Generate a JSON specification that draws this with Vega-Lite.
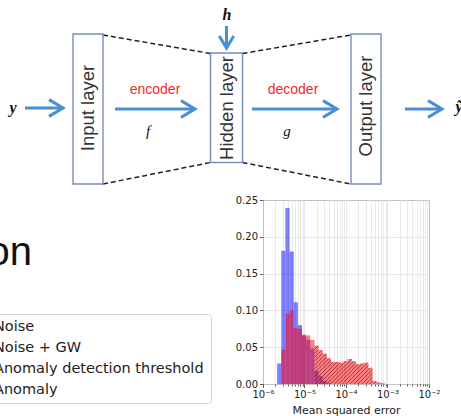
{
  "$schema": "https://vega.github.io/schema/vega-lite/v6.json",
  "padding": 0,
  "background": "white",
  "spacing": 0,
  "bounds": "flush",
  "config": {"view": {"stroke": null}, "font": "DejaVu Sans", "concat": {"spacing": 0}, "axis": {"labelOverlap": false, "labelSeparation": 0}},
  "vconcat": [
    {
      "width": 461,
      "height": 200,
      "encoding": {
        "x": {"field": "x", "type": "quantitative", "scale": {"domain": [0, 461], "nice": false, "zero": false}, "axis": null},
        "y": {"field": "y", "type": "quantitative", "scale": {"domain": [0, 200], "nice": false, "zero": false, "reverse": true}, "axis": null}
      },
      "layer": [
        {
          "data": {"values": [
            {"x": 103, "y": 35, "x2": 210.5, "y2": 53.5},
            {"x": 103, "y": 184, "x2": 210.5, "y2": 162.5},
            {"x": 242.5, "y": 53.5, "x2": 351, "y2": 35},
            {"x": 242.5, "y": 162.5, "x2": 351, "y2": 184}
          ]},
          "mark": {"type": "rule", "color": "#222", "strokeWidth": 1.5, "strokeDash": [5, 3]},
          "encoding": {"x2": {"field": "x2"}, "y2": {"field": "y2"}}
        },
        {
          "data": {"values": [
            {"x": 73, "x2": 103, "y": 34, "y2": 184},
            {"x": 210.5, "x2": 242.5, "y": 53, "y2": 162.5},
            {"x": 351, "x2": 381, "y": 34, "y2": 184}
          ]},
          "mark": {"type": "rect", "fill": "white", "stroke": "#7a8cc0", "strokeWidth": 1.4},
          "encoding": {"x2": {"field": "x2"}, "y2": {"field": "y2"}}
        },
        {
          "data": {"values": [
            {"x": 88, "y": 108, "label": "Input layer"},
            {"x": 226.5, "y": 108, "label": "Hidden layer"},
            {"x": 366, "y": 106, "label": "Output layer"}
          ]},
          "mark": {"type": "text", "angle": 270, "align": "center", "baseline": "middle", "font": "Liberation Sans", "fontSize": 18.5, "color": "#333"},
          "encoding": {"text": {"field": "label"}}
        },
        {
          "data": {"values": [
            {"x": 25, "x2": 61, "y": 108},
            {"x": 115, "x2": 193, "y": 109},
            {"x": 252, "x2": 335, "y": 109},
            {"x": 405, "x2": 440, "y": 109}
          ]},
          "mark": {"type": "rule", "color": "#4a8fd4", "strokeWidth": 3},
          "encoding": {"x2": {"field": "x2"}}
        },
        {
          "data": {"values": [{"x": 226.5, "y": 26, "y2": 46}]},
          "mark": {"type": "rule", "color": "#4a8fd4", "strokeWidth": 3},
          "encoding": {"y2": {"field": "y2"}}
        },
        {
          "data": {"values": [
            {"x": 63, "y": 108},
            {"x": 195, "y": 109},
            {"x": 337, "y": 109},
            {"x": 442, "y": 109}
          ]},
          "mark": {"type": "point", "shape": "M-2,-1.2L0,0L-2,1.2", "size": 196, "filled": false, "stroke": "#4a8fd4", "strokeWidth": 3, "opacity": 1, "strokeJoin": "miter"},
          "encoding": {}
        },
        {
          "data": {"values": [{"x": 226.5, "y": 48}]},
          "mark": {"type": "point", "shape": "M-2,-1.2L0,0L-2,1.2", "size": 144, "angle": 90, "filled": false, "stroke": "#4a8fd4", "strokeWidth": 3, "opacity": 1, "strokeJoin": "miter"},
          "encoding": {}
        },
        {
          "data": {"values": [
            {"x": 13, "y": 108, "label": "y"},
            {"x": 227, "y": 15, "label": "h"},
            {"x": 459, "y": 107, "label": "ỹ"}
          ]},
          "mark": {"type": "text", "align": "center", "baseline": "middle", "font": "Liberation Serif", "fontStyle": "italic", "fontWeight": "bold", "fontSize": 16, "color": "#111", "clip": true},
          "encoding": {"text": {"field": "label"}}
        },
        {
          "data": {"values": [
            {"x": 148, "y": 131, "label": "f"},
            {"x": 287, "y": 131, "label": "g"}
          ]},
          "mark": {"type": "text", "align": "center", "baseline": "middle", "font": "Liberation Serif", "fontStyle": "italic", "fontSize": 15, "color": "#111"},
          "encoding": {"text": {"field": "label"}}
        },
        {
          "data": {"values": [
            {"x": 155, "y": 90, "label": "encoder"},
            {"x": 293, "y": 90, "label": "decoder"}
          ]},
          "mark": {"type": "text", "align": "center", "baseline": "middle", "font": "Liberation Sans", "fontSize": 14, "color": "#ee2b2b"},
          "encoding": {"text": {"field": "label"}}
        }
      ]
    },
    {
      "spacing": 0,
      "bounds": "flush",
      "hconcat": [
        {
          "width": 263,
          "height": 216,
          "encoding": {
            "x": {"field": "x", "type": "quantitative", "scale": {"domain": [0, 263], "nice": false, "zero": false}, "axis": null},
            "y": {"field": "y", "type": "quantitative", "scale": {"domain": [0, 216], "nice": false, "zero": false, "reverse": true}, "axis": null}
          },
          "layer": [
            {
              "data": {"values": [{"x": 32, "y": 64.5, "label": "on"}]},
              "mark": {"type": "text", "align": "right", "baseline": "alphabetic", "font": "Liberation Sans", "fontSize": 40, "color": "#111", "clip": true},
              "encoding": {"text": {"field": "label"}}
            },
            {
              "data": {"values": [{"x": -20, "x2": 211.5, "y": 114.5, "y2": 203.5}]},
              "mark": {"type": "rect", "fill": "white", "stroke": "#d4d4d4", "strokeWidth": 1, "cornerRadius": 3, "clip": true},
              "encoding": {"x2": {"field": "x2"}, "y2": {"field": "y2"}}
            },
            {
              "data": {"values": [
                {"x": -6, "y": 127, "label": "Noise"},
                {"x": -6, "y": 147.5, "label": "Noise + GW"},
                {"x": -6, "y": 168.5, "label": "Anomaly detection threshold"},
                {"x": -6, "y": 189.5, "label": "Anomaly"}
              ]},
              "mark": {"type": "text", "align": "left", "baseline": "middle", "font": "DejaVu Sans", "fontSize": 14.5, "color": "#222", "clip": true},
              "encoding": {"text": {"field": "label"}}
            }
          ]
        },
        {
          "width": 166,
          "height": 184,
          "view": {"stroke": "#444", "strokeWidth": 1},
          "layer": [
            {
              "data": {"values": [
                {"lo": 2.188e-6, "hi": 2.754e-6, "v": 0.028},
                {"lo": 2.754e-6, "hi": 3.467e-6, "v": 0.181},
                {"lo": 3.467e-6, "hi": 4.365e-6, "v": 0.239},
                {"lo": 4.365e-6, "hi": 5.495e-6, "v": 0.180},
                {"lo": 5.495e-6, "hi": 6.918e-6, "v": 0.111},
                {"lo": 6.918e-6, "hi": 8.710e-6, "v": 0.080},
                {"lo": 8.710e-6, "hi": 1.0965e-5, "v": 0.066},
                {"lo": 1.0965e-5, "hi": 1.380e-5, "v": 0.060},
                {"lo": 1.380e-5, "hi": 1.738e-5, "v": 0.048},
                {"lo": 1.738e-5, "hi": 2.188e-5, "v": 0.018},
                {"lo": 2.188e-5, "hi": 2.754e-5, "v": 0.011},
                {"lo": 2.754e-5, "hi": 3.467e-5, "v": 0.004},
                {"lo": 3.467e-5, "hi": 4.365e-5, "v": 0.001}
              ]},
              "mark": {"type": "rect", "fill": "#0000ff", "fillOpacity": 0.5},
              "encoding": {
                "x": {
                  "field": "lo", "type": "quantitative",
                  "scale": {"type": "log", "domain": [0.000001, 0.01], "nice": false},
                  "axis": {
                    "values": [0.000001, 0.000002, 0.000003, 0.000004, 0.000005, 0.000006, 0.000007, 0.000008, 0.000009, 0.00001, 0.00002, 0.00003, 0.00004, 0.00005, 0.00006, 0.00007, 0.00008, 0.00009, 0.0001, 0.0002, 0.0003, 0.0004, 0.0005, 0.0006, 0.0007, 0.0008, 0.0009, 0.001, 0.002, 0.003, 0.004, 0.005, 0.006, 0.007, 0.008, 0.009, 0.01],
                    "labelExpr": "datum.value == 0.000001 ? '10⁻⁶' : datum.value == 0.00001 ? '10⁻⁵' : datum.value == 0.0001 ? '10⁻⁴' : datum.value == 0.001 ? '10⁻³' : datum.value == 0.01 ? '10⁻²' : ''",
                    "title": "Mean squared error",
                    "titleFont": "DejaVu Sans", "titleFontSize": 11, "titleFontWeight": "normal", "titleColor": "#222", "titlePadding": 5,
                    "labelFont": "DejaVu Sans", "labelFontSize": 10, "labelColor": "#222", "labelPadding": 2,
                    "labelFlush": false, "labelOverlap": false,
                    "grid": true, "gridColor": "#e3e3e3", "gridWidth": 0.8,
                    "domain": false,
                    "tickColor": "#333", "tickWidth": 0.8,
                    "tickSize": {"condition": {"test": "datum.value == 0.000001 || datum.value == 0.00001 || datum.value == 0.0001 || datum.value == 0.001 || datum.value == 0.01", "value": 3.5}, "value": 2}
                  }
                },
                "x2": {"field": "hi"},
                "y": {
                  "field": "v", "type": "quantitative",
                  "scale": {"domain": [0, 0.25], "nice": false},
                  "axis": {
                    "values": [0, 0.05, 0.1, 0.15, 0.2, 0.25],
                    "tickCount": 6,
                    "format": ".2f",
                    "title": null,
                    "labelFont": "DejaVu Sans", "labelFontSize": 10, "labelColor": "#222", "labelPadding": 2,
                    "labelFlush": false, "labelOverlap": false, "labelSeparation": 0,
                    "grid": true, "gridColor": "#e3e3e3", "gridWidth": 0.8,
                    "domain": false,
                    "tickColor": "#333", "tickWidth": 0.8, "tickSize": 3.5
                  }
                },
                "y2": {"datum": 0}
              }
            },
            {
              "data": {"values": [
                {"lo": 2.754e-6, "hi": 3.467e-6, "v": 0.047},
                {"lo": 3.467e-6, "hi": 4.365e-6, "v": 0.096},
                {"lo": 4.365e-6, "hi": 5.495e-6, "v": 0.100},
                {"lo": 5.495e-6, "hi": 6.918e-6, "v": 0.076},
                {"lo": 6.918e-6, "hi": 8.710e-6, "v": 0.075},
                {"lo": 8.710e-6, "hi": 1.0965e-5, "v": 0.067},
                {"lo": 1.0965e-5, "hi": 1.380e-5, "v": 0.066},
                {"lo": 1.380e-5, "hi": 1.738e-5, "v": 0.060},
                {"lo": 1.738e-5, "hi": 2.188e-5, "v": 0.052},
                {"lo": 2.188e-5, "hi": 2.754e-5, "v": 0.046},
                {"lo": 2.754e-5, "hi": 3.467e-5, "v": 0.041},
                {"lo": 3.467e-5, "hi": 4.365e-5, "v": 0.035},
                {"lo": 4.365e-5, "hi": 5.495e-5, "v": 0.030},
                {"lo": 5.495e-5, "hi": 6.918e-5, "v": 0.030},
                {"lo": 6.918e-5, "hi": 8.710e-5, "v": 0.029},
                {"lo": 8.710e-5, "hi": 1.0965e-4, "v": 0.031},
                {"lo": 1.0965e-4, "hi": 1.380e-4, "v": 0.034},
                {"lo": 1.380e-4, "hi": 1.738e-4, "v": 0.031},
                {"lo": 1.738e-4, "hi": 2.188e-4, "v": 0.027},
                {"lo": 2.188e-4, "hi": 2.754e-4, "v": 0.028},
                {"lo": 2.754e-4, "hi": 3.467e-4, "v": 0.029},
                {"lo": 3.467e-4, "hi": 4.365e-4, "v": 0.022},
                {"lo": 4.365e-4, "hi": 5.495e-4, "v": 0.004},
                {"lo": 5.495e-4, "hi": 6.918e-4, "v": 0.002},
                {"lo": 6.918e-4, "hi": 8.710e-4, "v": 0.001}
              ]},
              "mark": {"type": "rect", "fill": "#ff0000", "fillOpacity": 0.5},
              "encoding": {
                "x": {"field": "lo", "type": "quantitative", "scale": {"type": "log", "domain": [0.000001, 0.01], "nice": false}},
                "x2": {"field": "hi"},
                "y": {"field": "v", "type": "quantitative", "scale": {"domain": [0, 0.25], "nice": false}},
                "y2": {"datum": 0}
              }
            },
            {
              "data": {"values": [
                {"lo": 1.738e-5, "v": 0.052},
                {"lo": 2.188e-5, "v": 0.046},
                {"lo": 2.754e-5, "v": 0.041},
                {"lo": 3.467e-5, "v": 0.035},
                {"lo": 4.365e-5, "v": 0.030},
                {"lo": 5.495e-5, "v": 0.030},
                {"lo": 6.918e-5, "v": 0.029},
                {"lo": 8.710e-5, "v": 0.031},
                {"lo": 1.0965e-4, "v": 0.034},
                {"lo": 1.380e-4, "v": 0.031},
                {"lo": 1.738e-4, "v": 0.027},
                {"lo": 2.188e-4, "v": 0.028},
                {"lo": 2.754e-4, "v": 0.029},
                {"lo": 3.467e-4, "v": 0.022},
                {"lo": 4.365e-4, "v": 0.004},
                {"lo": 5.495e-4, "v": 0.002},
                {"lo": 6.918e-4, "v": 0.001},
                {"lo": 8.710e-4, "v": 0.001}
              ]},
              "mark": {
                "type": "area",
                "interpolate": "step-after",
                "fill": {
                  "gradient": "linear", "x1": 0, "y1": 0, "x2": 1.1917, "y2": 0.647,
                  "stops": [
                    {"offset": 0, "color": "rgba(110,0,20,0.6)"},
                    {"offset": 0.00893, "color": "rgba(110,0,20,0)"},
                    {"offset": 0.02679, "color": "rgba(110,0,20,0)"},
                    {"offset": 0.035714, "color": "rgba(110,0,20,0.6)"},
                    {"offset": 0.044643, "color": "rgba(110,0,20,0)"},
                    {"offset": 0.0625, "color": "rgba(110,0,20,0)"},
                    {"offset": 0.071429, "color": "rgba(110,0,20,0.6)"},
                    {"offset": 0.080357, "color": "rgba(110,0,20,0)"},
                    {"offset": 0.098214, "color": "rgba(110,0,20,0)"},
                    {"offset": 0.107143, "color": "rgba(110,0,20,0.6)"},
                    {"offset": 0.116071, "color": "rgba(110,0,20,0)"},
                    {"offset": 0.133929, "color": "rgba(110,0,20,0)"},
                    {"offset": 0.142857, "color": "rgba(110,0,20,0.6)"},
                    {"offset": 0.151786, "color": "rgba(110,0,20,0)"},
                    {"offset": 0.169643, "color": "rgba(110,0,20,0)"},
                    {"offset": 0.178571, "color": "rgba(110,0,20,0.6)"},
                    {"offset": 0.1875, "color": "rgba(110,0,20,0)"},
                    {"offset": 0.205357, "color": "rgba(110,0,20,0)"},
                    {"offset": 0.214286, "color": "rgba(110,0,20,0.6)"},
                    {"offset": 0.223214, "color": "rgba(110,0,20,0)"},
                    {"offset": 0.241071, "color": "rgba(110,0,20,0)"},
                    {"offset": 0.25, "color": "rgba(110,0,20,0.6)"},
                    {"offset": 0.258929, "color": "rgba(110,0,20,0)"},
                    {"offset": 0.276786, "color": "rgba(110,0,20,0)"},
                    {"offset": 0.285714, "color": "rgba(110,0,20,0.6)"},
                    {"offset": 0.294643, "color": "rgba(110,0,20,0)"},
                    {"offset": 0.3125, "color": "rgba(110,0,20,0)"},
                    {"offset": 0.321429, "color": "rgba(110,0,20,0.6)"},
                    {"offset": 0.330357, "color": "rgba(110,0,20,0)"},
                    {"offset": 0.348214, "color": "rgba(110,0,20,0)"},
                    {"offset": 0.357143, "color": "rgba(110,0,20,0.6)"},
                    {"offset": 0.366071, "color": "rgba(110,0,20,0)"},
                    {"offset": 0.383929, "color": "rgba(110,0,20,0)"},
                    {"offset": 0.392857, "color": "rgba(110,0,20,0.6)"},
                    {"offset": 0.401786, "color": "rgba(110,0,20,0)"},
                    {"offset": 0.419643, "color": "rgba(110,0,20,0)"},
                    {"offset": 0.428571, "color": "rgba(110,0,20,0.6)"},
                    {"offset": 0.4375, "color": "rgba(110,0,20,0)"},
                    {"offset": 0.455357, "color": "rgba(110,0,20,0)"},
                    {"offset": 0.464286, "color": "rgba(110,0,20,0.6)"},
                    {"offset": 0.473214, "color": "rgba(110,0,20,0)"},
                    {"offset": 0.491071, "color": "rgba(110,0,20,0)"},
                    {"offset": 0.5, "color": "rgba(110,0,20,0.6)"},
                    {"offset": 0.508929, "color": "rgba(110,0,20,0)"},
                    {"offset": 0.526786, "color": "rgba(110,0,20,0)"},
                    {"offset": 0.535714, "color": "rgba(110,0,20,0.6)"},
                    {"offset": 0.544643, "color": "rgba(110,0,20,0)"},
                    {"offset": 0.5625, "color": "rgba(110,0,20,0)"},
                    {"offset": 0.571429, "color": "rgba(110,0,20,0.6)"},
                    {"offset": 0.580357, "color": "rgba(110,0,20,0)"},
                    {"offset": 0.598214, "color": "rgba(110,0,20,0)"},
                    {"offset": 0.607143, "color": "rgba(110,0,20,0.6)"},
                    {"offset": 0.616071, "color": "rgba(110,0,20,0)"},
                    {"offset": 0.633929, "color": "rgba(110,0,20,0)"},
                    {"offset": 0.642857, "color": "rgba(110,0,20,0.6)"},
                    {"offset": 0.651786, "color": "rgba(110,0,20,0)"},
                    {"offset": 0.669643, "color": "rgba(110,0,20,0)"},
                    {"offset": 0.678571, "color": "rgba(110,0,20,0.6)"},
                    {"offset": 0.6875, "color": "rgba(110,0,20,0)"},
                    {"offset": 0.705357, "color": "rgba(110,0,20,0)"},
                    {"offset": 0.714286, "color": "rgba(110,0,20,0.6)"},
                    {"offset": 0.723214, "color": "rgba(110,0,20,0)"},
                    {"offset": 0.741071, "color": "rgba(110,0,20,0)"},
                    {"offset": 0.75, "color": "rgba(110,0,20,0.6)"},
                    {"offset": 0.758929, "color": "rgba(110,0,20,0)"},
                    {"offset": 0.776786, "color": "rgba(110,0,20,0)"},
                    {"offset": 0.785714, "color": "rgba(110,0,20,0.6)"},
                    {"offset": 0.794643, "color": "rgba(110,0,20,0)"},
                    {"offset": 0.8125, "color": "rgba(110,0,20,0)"},
                    {"offset": 0.821429, "color": "rgba(110,0,20,0.6)"},
                    {"offset": 0.830357, "color": "rgba(110,0,20,0)"},
                    {"offset": 0.848214, "color": "rgba(110,0,20,0)"},
                    {"offset": 0.857143, "color": "rgba(110,0,20,0.6)"},
                    {"offset": 0.866071, "color": "rgba(110,0,20,0)"},
                    {"offset": 0.883929, "color": "rgba(110,0,20,0)"},
                    {"offset": 0.892857, "color": "rgba(110,0,20,0.6)"},
                    {"offset": 0.901786, "color": "rgba(110,0,20,0)"},
                    {"offset": 0.919643, "color": "rgba(110,0,20,0)"},
                    {"offset": 0.928571, "color": "rgba(110,0,20,0.6)"},
                    {"offset": 0.9375, "color": "rgba(110,0,20,0)"},
                    {"offset": 0.955357, "color": "rgba(110,0,20,0)"},
                    {"offset": 0.964286, "color": "rgba(110,0,20,0.6)"},
                    {"offset": 0.973214, "color": "rgba(110,0,20,0)"},
                    {"offset": 0.991071, "color": "rgba(110,0,20,0)"},
                    {"offset": 1, "color": "rgba(110,0,20,0.6)"}
                  ]
                }
              },
              "encoding": {
                "x": {"field": "lo", "type": "quantitative", "scale": {"type": "log", "domain": [0.000001, 0.01], "nice": false}},
                "y": {"field": "v", "type": "quantitative", "scale": {"domain": [0, 0.25], "nice": false}},
                "y2": {"datum": 0}
              }
            },
            {
              "mark": {"type": "rule", "color": "#555", "strokeWidth": 1.2},
              "encoding": {"x": {"datum": 1.738e-5, "type": "quantitative", "scale": {"type": "log", "domain": [0.000001, 0.01], "nice": false}}}
            }
          ]
        }
      ]
    }
  ]
}
